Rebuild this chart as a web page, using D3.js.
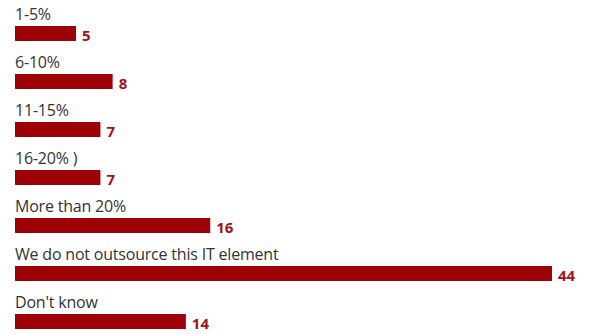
<!DOCTYPE html>
<html>
<head>
<meta charset="utf-8">
<script src="https://cdn.jsdelivr.net/npm/d3@7"></script>
<style>
  html, body { margin: 0; padding: 0; background: #fff; }
  svg { display: block; }
</style>
</head>
<body>
<svg id="chart" width="592" height="334"></svg>
<script>
// Share of IT budget outsourced, by response
const categories = [
  "1-5%",
  "6-10%",
  "11-15%",
  "16-20% )",
  "More than 20%",
  "We do not outsource this IT element",
  "Don't know"
];
const values = [5, 8, 7, 7, 16, 44, 14];

const width = 592, height = 334;
const left = 15, barH = 15, rowStep = 48, firstBarTop = 26;

const svg = d3.select("#chart");

const x = d3.scaleLinear()
  .domain([0, 44])
  .range([left, 552]);

const y = d3.scaleBand()
  .domain(categories)
  .range([firstBarTop, firstBarTop + rowStep * categories.length])
  .paddingInner(0)
  .paddingOuter(0);

const rows = svg.selectAll("g.row")
  .data(categories.map((c, i) => ({ c, v: values[i] })))
  .join("g")
  .attr("class", "row")
  .attr("transform", d => `translate(0,${y(d.c)})`);

rows.append("text")
  .attr("x", left)
  .attr("y", -6)
  .attr("font-family", "'Open Sans', sans-serif")
  .attr("font-size", 16)
  .attr("letter-spacing", -0.2)
  .attr("fill", "#333")
  .text(d => d.c);

rows.append("rect")
  .attr("x", x(0))
  .attr("y", 0)
  .attr("width", d => x(d.v) - x(0))
  .attr("height", barH)
  .attr("fill", "#9e0008");

rows.append("text")
  .attr("x", d => x(d.v) + 6)
  .attr("y", 14.5)
  .attr("font-family", "'Open Sans', sans-serif")
  .attr("font-weight", "bold")
  .attr("font-size", 15)
  .attr("fill", "#a3121c")
  .text(d => d.v);
</script>
</body>
</html>
